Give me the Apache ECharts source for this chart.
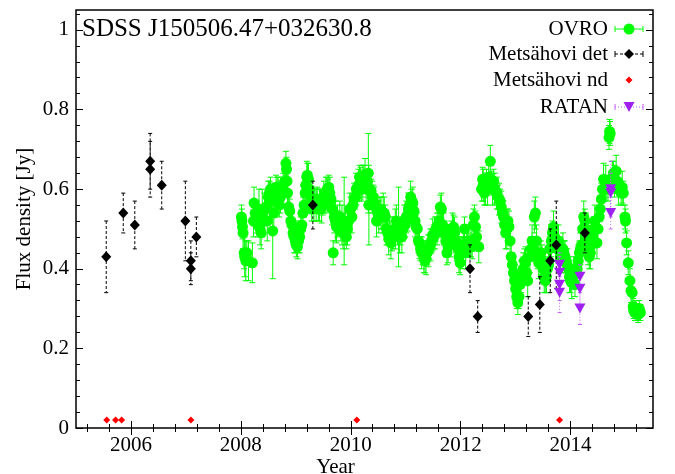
<!DOCTYPE html>
<html>
<head>
<meta charset="utf-8">
<script src="https://cdn.jsdelivr.net/npm/echarts@6/dist/echarts.min.js"></script>
<style>
  html, body { margin: 0; padding: 0; background: #fff; }
  #chart { width: 675px; height: 474px; }
</style>
</head>
<body>
<div id="chart"></div>
<script>
// Radio light curve of SDSS J150506.47+032630.8
// Each entry: [year, flux density (Jy), 1-sigma error (Jy)]

const ovro = [
  [2008.01,0.53,0.03],[2008.02,0.52,0.03],[2008.03,0.505,0.03],[2008.04,0.49,0.04],[2008.06,0.44,0.04],
  [2008.07,0.43,0.05],[2008.09,0.42,0.05],[2008.11,0.44,0.03],[2008.14,0.42,0.05],[2008.21,0.415,0.05],
  [2008.23,0.52,0.04],[2008.24,0.565,0.04],[2008.26,0.54,0.03],[2008.29,0.53,0.04],[2008.31,0.51,0.03],
  [2008.33,0.55,0.05],[2008.35,0.5,0.04],[2008.37,0.49,0.04],[2008.39,0.54,0.06],[2008.41,0.52,0.03],
  [2008.43,0.55,0.04],[2008.46,0.555,0.03],[2008.48,0.52,0.05],[2008.5,0.58,0.04],[2008.52,0.59,0.03],
  [2008.54,0.6,0.03],[2008.56,0.57,0.04],[2008.58,0.495,0.12],[2008.6,0.54,0.04],[2008.62,0.58,0.03],
  [2008.64,0.605,0.03],[2008.66,0.59,0.04],[2008.68,0.6,0.03],[2008.7,0.56,0.03],[2008.72,0.58,0.04],
  [2008.74,0.6,0.03],[2008.77,0.61,0.03],[2008.8,0.62,0.03],[2008.82,0.665,0.03],[2008.83,0.65,0.03],
  [2008.84,0.62,0.03],[2008.85,0.59,0.04],[2008.87,0.555,0.03],[2008.89,0.545,0.03],[2008.91,0.52,0.04],
  [2008.93,0.51,0.03],[2008.95,0.49,0.03],[2008.97,0.48,0.04],[2008.99,0.47,0.03],[2009.01,0.46,0.03],
  [2009.03,0.455,0.03],[2009.05,0.47,0.03],[2009.07,0.48,0.04],[2009.09,0.5,0.03],[2009.11,0.51,0.03],
  [2009.13,0.54,0.04],[2009.15,0.56,0.03],[2009.17,0.59,0.03],[2009.18,0.61,0.03],[2009.2,0.63,0.04],
  [2009.21,0.635,0.03],[2009.23,0.625,0.04],[2009.25,0.6,0.03],[2009.27,0.58,0.04],[2009.29,0.55,0.03],
  [2009.33,0.56,0.04],[2009.35,0.57,0.03],[2009.37,0.56,0.04],[2009.39,0.575,0.03],[2009.41,0.55,0.03],
  [2009.43,0.56,0.04],[2009.45,0.57,0.03],[2009.47,0.555,0.04],[2009.49,0.565,0.03],[2009.51,0.58,0.04],
  [2009.53,0.57,0.03],[2009.55,0.59,0.04],[2009.57,0.6,0.03],[2009.58,0.585,0.04],[2009.6,0.605,0.03],
  [2009.62,0.59,0.04],[2009.64,0.575,0.03],[2009.66,0.55,0.04],[2009.68,0.44,0.03],[2009.7,0.53,0.04],
  [2009.72,0.52,0.05],[2009.74,0.505,0.04],[2009.76,0.52,0.04],[2009.78,0.515,0.03],[2009.8,0.53,0.04],
  [2009.82,0.5,0.03],[2009.84,0.51,0.05],[2009.86,0.49,0.04],[2009.88,0.52,0.11],[2009.9,0.5,0.04],
  [2009.92,0.48,0.03],[2009.94,0.5,0.04],[2009.96,0.52,0.03],[2009.98,0.55,0.04],[2010.0,0.55,0.03],
  [2010.02,0.53,0.04],[2010.04,0.56,0.03],[2010.06,0.575,0.04],[2010.08,0.58,0.03],[2010.1,0.6,0.04],
  [2010.12,0.6,0.03],[2010.14,0.61,0.04],[2010.16,0.63,0.03],[2010.18,0.615,0.04],[2010.2,0.6,0.03],
  [2010.22,0.62,0.04],[2010.24,0.63,0.03],[2010.26,0.637,0.04],[2010.28,0.6,0.04],[2010.3,0.62,0.03],
  [2010.32,0.64,0.1],[2010.33,0.56,0.1],[2010.35,0.6,0.04],[2010.37,0.595,0.03],[2010.39,0.58,0.04],
  [2010.41,0.58,0.03],[2010.43,0.565,0.04],[2010.45,0.555,0.03],[2010.47,0.52,0.04],[2010.49,0.54,0.03],
  [2010.51,0.53,0.04],[2010.53,0.55,0.03],[2010.55,0.54,0.04],[2010.57,0.53,0.03],[2010.59,0.54,0.05],
  [2010.61,0.54,0.04],[2010.63,0.53,0.03],[2010.65,0.5,0.04],[2010.67,0.49,0.03],[2010.69,0.475,0.04],
  [2010.71,0.49,0.03],[2010.73,0.465,0.04],[2010.75,0.475,0.03],[2010.77,0.49,0.04],[2010.79,0.5,0.03],
  [2010.81,0.5,0.05],[2010.83,0.52,0.04],[2010.85,0.49,0.03],[2010.87,0.505,0.1],[2010.89,0.48,0.04],
  [2010.91,0.49,0.03],[2010.93,0.48,0.04],[2010.95,0.5,0.03],[2010.97,0.52,0.04],[2010.99,0.51,0.03],
  [2011.01,0.53,0.04],[2011.03,0.525,0.03],[2011.05,0.55,0.04],[2011.07,0.56,0.03],[2011.09,0.58,0.04],
  [2011.11,0.57,0.03],[2011.13,0.565,0.04],[2011.15,0.545,0.03],[2011.17,0.52,0.04],[2011.19,0.505,0.03],
  [2011.21,0.5,0.04],[2011.23,0.47,0.03],[2011.25,0.465,0.04],[2011.27,0.45,0.03],[2011.29,0.44,0.04],
  [2011.31,0.44,0.03],[2011.33,0.43,0.04],[2011.35,0.42,0.03],[2011.37,0.425,0.04],[2011.39,0.44,0.03],
  [2011.41,0.445,0.04],[2011.43,0.455,0.03],[2011.45,0.46,0.04],[2011.47,0.47,0.03],[2011.49,0.485,0.04],
  [2011.51,0.48,0.03],[2011.53,0.49,0.04],[2011.55,0.5,0.03],[2011.57,0.5,0.04],[2011.59,0.51,0.03],
  [2011.61,0.52,0.04],[2011.63,0.555,0.03],[2011.65,0.55,0.04],[2011.67,0.51,0.03],[2011.69,0.5,0.04],
  [2011.71,0.49,0.03],[2011.73,0.47,0.04],[2011.75,0.44,0.03],[2011.77,0.455,0.04],[2011.79,0.48,0.03],
  [2011.81,0.47,0.04],[2011.83,0.49,0.03],[2011.85,0.5,0.04],[2011.87,0.505,0.03],[2011.89,0.49,0.04],
  [2011.91,0.47,0.03],[2011.93,0.46,0.04],[2011.95,0.45,0.03],[2011.97,0.43,0.04],[2011.99,0.415,0.03],
  [2012.01,0.44,0.04],[2012.03,0.45,0.03],[2012.05,0.46,0.04],[2012.07,0.5,0.03],[2012.09,0.44,0.04],
  [2012.11,0.465,0.03],[2012.13,0.47,0.04],[2012.15,0.46,0.03],[2012.19,0.47,0.04],[2012.21,0.455,0.03],
  [2012.23,0.51,0.04],[2012.25,0.53,0.03],[2012.27,0.505,0.04],[2012.29,0.48,0.03],[2012.33,0.455,0.04],
  [2012.38,0.6,0.03],[2012.4,0.625,0.03],[2012.41,0.61,0.04],[2012.43,0.59,0.03],[2012.45,0.6,0.04],
  [2012.47,0.62,0.03],[2012.49,0.6,0.04],[2012.51,0.63,0.03],[2012.54,0.67,0.04],[2012.56,0.615,0.03],
  [2012.58,0.6,0.04],[2012.6,0.62,0.03],[2012.62,0.6,0.04],[2012.64,0.595,0.03],[2012.66,0.59,0.04],
  [2012.68,0.58,0.03],[2012.7,0.575,0.04],[2012.72,0.57,0.03],[2012.74,0.555,0.04],[2012.76,0.54,0.03],
  [2012.78,0.53,0.04],[2012.8,0.51,0.03],[2012.82,0.49,0.04],[2012.84,0.5,0.05],[2012.86,0.52,0.03],
  [2012.88,0.505,0.04],[2012.9,0.47,0.03],[2012.92,0.43,0.04],[2012.94,0.41,0.03],[2012.96,0.39,0.03],
  [2012.98,0.37,0.03],[2013.0,0.35,0.03],[2013.02,0.33,0.03],[2013.04,0.315,0.03],[2013.06,0.33,0.03],
  [2013.08,0.36,0.03],[2013.1,0.38,0.04],[2013.12,0.39,0.03],[2013.14,0.4,0.04],[2013.16,0.42,0.03],
  [2013.18,0.415,0.04],[2013.2,0.39,0.03],[2013.22,0.37,0.04],[2013.26,0.43,0.04],[2013.28,0.45,0.03],
  [2013.3,0.47,0.04],[2013.32,0.45,0.03],[2013.34,0.53,0.04],[2013.36,0.54,0.04],[2013.38,0.47,0.04],
  [2013.4,0.43,0.03],[2013.42,0.415,0.04],[2013.46,0.44,0.03],[2013.48,0.42,0.04],[2013.5,0.4,0.03],
  [2013.52,0.38,0.04],[2013.54,0.37,0.03],[2013.56,0.38,0.04],[2013.58,0.4,0.03],[2013.6,0.41,0.04],
  [2013.62,0.45,0.03],[2013.65,0.47,0.04],[2013.67,0.49,0.03],[2013.69,0.505,0.04],[2013.71,0.48,0.03],
  [2013.73,0.46,0.04],[2013.76,0.45,0.03],[2013.78,0.47,0.04],[2013.8,0.45,0.03],[2013.82,0.43,0.04],
  [2013.84,0.44,0.03],[2013.86,0.45,0.04],[2013.88,0.44,0.03],[2013.9,0.43,0.04],[2013.92,0.42,0.03],
  [2013.94,0.41,0.04],[2013.96,0.4,0.03],[2013.98,0.38,0.04],[2014.0,0.37,0.03],[2014.02,0.365,0.04],
  [2014.04,0.38,0.03],[2014.06,0.39,0.04],[2014.08,0.36,0.03],[2014.1,0.39,0.04],[2014.12,0.4,0.03],
  [2014.14,0.42,0.04],[2014.16,0.44,0.03],[2014.18,0.45,0.04],[2014.2,0.46,0.03],[2014.22,0.5,0.04],
  [2014.24,0.53,0.04],[2014.26,0.52,0.03],[2014.28,0.5,0.04],[2014.3,0.47,0.03],[2014.32,0.45,0.04],
  [2014.34,0.43,0.03],[2014.36,0.44,0.04],[2014.38,0.46,0.03],[2014.4,0.48,0.04],[2014.42,0.5,0.03],
  [2014.44,0.52,0.04],[2014.46,0.5,0.03],[2014.48,0.465,0.04],[2014.5,0.5,0.03],[2014.52,0.53,0.04],
  [2014.54,0.55,0.03],[2014.56,0.575,0.04],[2014.58,0.6,0.03],[2014.6,0.625,0.04],[2014.62,0.6,0.03],
  [2014.64,0.62,0.04],[2014.68,0.6,0.03],[2014.7,0.73,0.03],[2014.71,0.745,0.03],[2014.72,0.74,0.03],
  [2014.76,0.63,0.04],[2014.78,0.64,0.03],[2014.8,0.62,0.04],[2014.83,0.645,0.04],[2014.85,0.62,0.03],
  [2014.87,0.6,0.04],[2014.92,0.59,0.03],[2014.94,0.605,0.04],[2014.96,0.59,0.03],[2014.99,0.53,0.03],
  [2015.0,0.52,0.03],[2015.02,0.465,0.03],[2015.05,0.415,0.03],[2015.08,0.37,0.03],[2015.1,0.345,0.03],
  [2015.12,0.34,0.03],[2015.14,0.305,0.02],[2015.15,0.295,0.02],[2015.17,0.29,0.02],[2015.19,0.3,0.02],
  [2015.21,0.29,0.02],[2015.23,0.285,0.02],[2015.25,0.3,0.02],[2015.27,0.29,0.02]
];

const metsahoviDet = [
  [2005.55,0.43,0.09],[2005.86,0.54,0.05],[2006.07,0.51,0.06],[2006.35,0.67,0.07],[2006.35,0.65,0.07],
  [2006.56,0.61,0.06],[2006.99,0.52,0.10],[2007.09,0.42,0.05],[2007.09,0.40,0.04],[2007.19,0.48,0.05],
  [2009.31,0.56,0.06],[2012.17,0.40,0.06],[2012.31,0.28,0.04],[2013.23,0.28,0.05],[2013.44,0.31,0.07],
  [2013.63,0.42,0.08],[2013.74,0.46,0.11],[2014.26,0.49,0.05]
];

// Non-detections are plotted at a fixed placeholder level
const metsahoviNd = [
  [2005.56,0.02],[2005.72,0.02],[2005.83,0.02],[2007.09,0.02],[2010.11,0.02],[2013.80,0.02]
];

const ratan = [
  [2013.80,0.41,0.03],[2013.80,0.39,0.04],[2013.80,0.36,0.04],[2013.80,0.34,0.05],
  [2014.17,0.38,0.03],[2014.17,0.35,0.04],[2014.17,0.30,0.04],
  [2014.73,0.60,0.07],[2014.73,0.59,0.05],[2014.73,0.54,0.04]
];

const sourceName = 'SDSS J150506.47+032630.8';
const legendNames = ['OVRO', 'Metsähovi det', 'Metsähovi nd', 'RATAN'];
const xMajorTicks = [2006, 2008, 2010, 2012, 2014];
const yMajorTicks = [0, 0.2, 0.4, 0.6, 0.8, 1];
const xRange = [2005, 2015.5];
const yRange = [0, 1.05];

// Minor ticks: every 0.4 yr on the time axis, every 0.04 Jy on the flux axis
function minorTicks(start, step, end, majors) {
  const out = [];
  for (let i = 0; ; i++) {
    const v = Math.round((start + i * step) * 1000) / 1000;
    if (v > end + 1e-9) break;
    if (!majors.some(m => Math.abs(m - v) < 1e-6)) out.push(v);
  }
  return out;
}
const xMinorTicks = minorTicks(2005.2, 0.4, 2015.4, xMajorTicks);
const yMinorTicks = minorTicks(0.04, 0.04, 1.04, yMajorTicks);

const FONT = '"Liberation Serif", "DejaVu Serif", serif';
const GREEN = '#00ff00';
const PURPLE = '#a020f0';
const PURPLE_BAR = '#c060f8';
const RED = '#ff0000';

function errorBars(color, dash, cap, width) {
  return function (params, api) {
    const x = api.value(0), y = api.value(1), e = api.value(2);
    const top = api.coord([x, y + e]);
    const bot = api.coord([x, y - e]);
    const style = { stroke: color, lineWidth: width, lineDash: dash, fill: null };
    return {
      type: 'group',
      children: [
        { type: 'line', shape: { x1: top[0], y1: top[1], x2: bot[0], y2: bot[1] }, style },
        { type: 'line', shape: { x1: top[0] - cap, y1: top[1], x2: top[0] + cap, y2: top[1] }, style: { stroke: color, lineWidth: width } },
        { type: 'line', shape: { x1: bot[0] - cap, y1: bot[1], x2: bot[0] + cap, y2: bot[1] }, style: { stroke: color, lineWidth: width } }
      ]
    };
  };
}

function valueAxis(pos, range, ticks, len, labels, extra) {
  return Object.assign({
    type: 'value', position: pos, min: range[0], max: range[1],
    axisLine: { show: false },
    splitLine: { show: false },
    axisTick: { show: true, inside: true, length: len, customValues: ticks, lineStyle: { color: '#000', width: 1 } },
    axisLabel: labels
      ? { show: true, customValues: ticks, color: '#000', fontFamily: FONT, fontSize: 21, margin: 7, formatter: v => String(+v.toFixed(2)) }
      : { show: false }
  }, extra || {});
}

const chart = echarts.init(document.getElementById('chart'), null, { renderer: 'canvas' });

// Legend samples, drawn to the right of the entry names
const lx = 629, ly = [29, 54, 80, 107];
const legendGraphics = [];
legendNames.forEach((name, i) => {
  legendGraphics.push({
    type: 'text', x: 608, y: ly[i],
    style: { text: name, fill: '#000', font: '21px ' + FONT, align: 'right', verticalAlign: 'middle', textAlign: 'right', textVerticalAlign: 'middle' }
  });
});
function sampleBar(y, color, dash) {
  return [
    { type: 'line', shape: { x1: lx - 14, y1: y, x2: lx + 14, y2: y }, style: { stroke: color, lineWidth: 1, lineDash: dash } },
    { type: 'line', shape: { x1: lx - 14, y1: y - 3, x2: lx - 14, y2: y + 3 }, style: { stroke: color, lineWidth: 1 } },
    { type: 'line', shape: { x1: lx + 14, y1: y - 3, x2: lx + 14, y2: y + 3 }, style: { stroke: color, lineWidth: 1 } }
  ];
}
legendGraphics.push(...sampleBar(ly[0], GREEN, null));
legendGraphics.push({ type: 'circle', shape: { cx: lx, cy: ly[0], r: 5.5 }, style: { fill: GREEN } });
legendGraphics.push(...sampleBar(ly[1], '#000', [3, 2]));
legendGraphics.push({ type: 'polygon', shape: { points: [[lx, ly[1] - 5], [lx + 5, ly[1]], [lx, ly[1] + 5], [lx - 5, ly[1]]] }, style: { fill: '#000' } });
legendGraphics.push({ type: 'polygon', shape: { points: [[lx, ly[2] - 3.5], [lx + 3.5, ly[2]], [lx, ly[2] + 3.5], [lx - 3.5, ly[2]]] }, style: { fill: RED } });
legendGraphics.push(...sampleBar(ly[3], PURPLE_BAR, [1, 2]));
legendGraphics.push({ type: 'polygon', shape: { points: [[lx - 5.5, ly[3] - 5], [lx + 5.5, ly[3] - 5], [lx, ly[3] + 5]] }, style: { fill: PURPLE } });

chart.setOption({
  animation: false,
  backgroundColor: '#fff',
  grid: {
    left: 76, right: 22, top: 10, bottom: 46, outerBoundsMode: 'none', containLabel: false,
    show: true, borderColor: '#000', borderWidth: 1.5, backgroundColor: 'transparent'
  },
  xAxis: [
    valueAxis('bottom', xRange, xMajorTicks, 7, true, {
      name: 'Year', nameLocation: 'middle', nameGap: 29, nameMoveOverlap: false,
      nameTextStyle: { color: '#000', fontFamily: FONT, fontSize: 21, padding: [0, 58, 0, 0] }
    }),
    valueAxis('bottom', xRange, xMinorTicks, 4, false),
    valueAxis('top', xRange, xMajorTicks, 7, false),
    valueAxis('top', xRange, xMinorTicks, 4, false)
  ],
  yAxis: [
    valueAxis('left', yRange, yMajorTicks, 7, true, {
      name: 'Flux density [Jy]', nameLocation: 'middle', nameGap: 41, nameRotate: 90, nameMoveOverlap: false,
      nameTextStyle: { color: '#000', fontFamily: FONT, fontSize: 21 }
    }),
    valueAxis('left', yRange, yMinorTicks, 4, false),
    valueAxis('right', yRange, yMajorTicks, 7, false),
    valueAxis('right', yRange, yMinorTicks, 4, false)
  ],
  graphic: [
    {
      type: 'text', x: 82, y: 29,
      style: { text: sourceName, fill: '#000', font: '25px ' + FONT, verticalAlign: 'middle', textVerticalAlign: 'middle' }
    },
    ...legendGraphics
  ],
  series: [
    {
      type: 'custom', name: 'OVRO errors', data: ovro, encode: { x: 0, y: 1 },
      renderItem: errorBars(GREEN, null, 3, 1), silent: true, z: 2
    },
    {
      type: 'scatter', name: 'OVRO', data: ovro.map(d => [d[0], d[1]]),
      symbol: 'circle', symbolSize: 11, itemStyle: { color: GREEN, opacity: 1 }, silent: true, z: 3
    },
    {
      type: 'custom', name: 'Metsähovi det errors', data: metsahoviDet, encode: { x: 0, y: 1 },
      renderItem: errorBars('#000', [3, 2], 2, 1), silent: true, z: 4
    },
    {
      type: 'scatter', name: 'Metsähovi det', data: metsahoviDet.map(d => [d[0], d[1]]),
      symbol: 'diamond', symbolSize: [10, 11], itemStyle: { color: '#000', opacity: 1 }, silent: true, z: 5
    },
    {
      type: 'scatter', name: 'Metsähovi nd', data: metsahoviNd,
      symbol: 'diamond', symbolSize: 7, itemStyle: { color: RED, opacity: 1 }, silent: true, z: 5
    },
    {
      type: 'custom', name: 'RATAN errors', data: ratan, encode: { x: 0, y: 1 },
      renderItem: errorBars(PURPLE_BAR, [1, 2], 2, 1), silent: true, z: 6
    },
    {
      type: 'scatter', name: 'RATAN', data: ratan.map(d => [d[0], d[1]]),
      symbol: 'triangle', symbolRotate: 180, symbolSize: [11, 10], itemStyle: { color: PURPLE, opacity: 1 }, silent: true, z: 7
    }
  ]
});
</script>
</body>
</html>
